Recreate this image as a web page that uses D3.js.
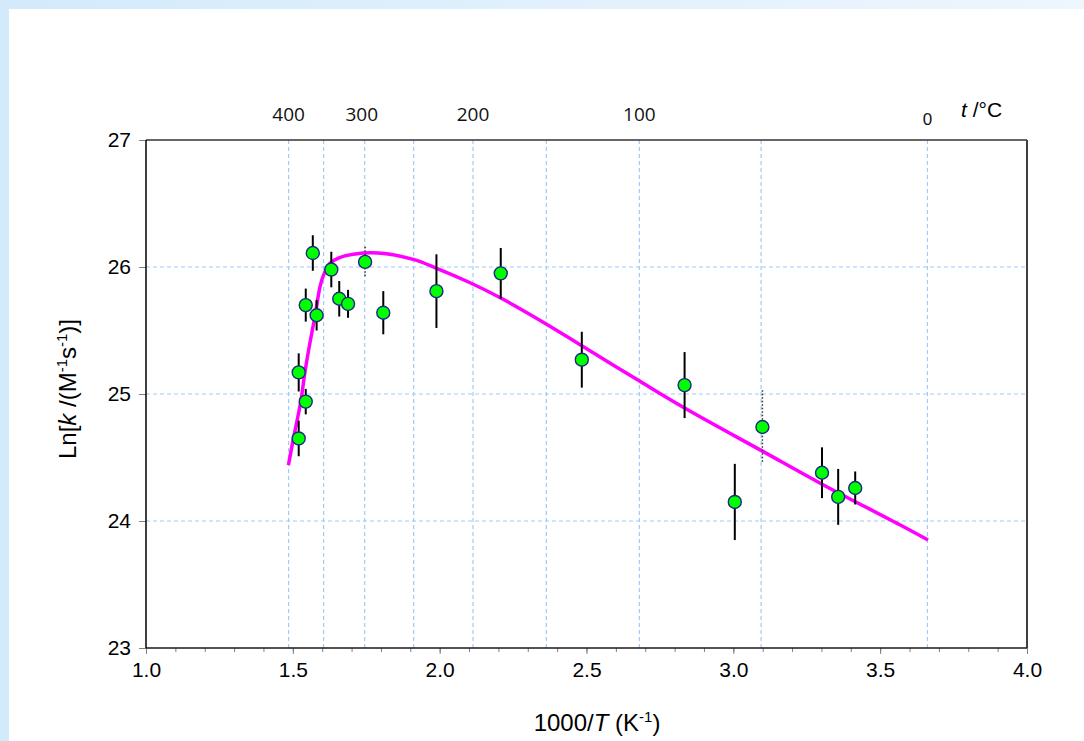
<!DOCTYPE html>
<html>
<head>
<meta charset="utf-8">
<script src="https://cdn.jsdelivr.net/npm/d3@7"></script>
<style>
  html, body { margin: 0; padding: 0; background: #ffffff; }
  svg { display: block; }
</style>
</head>
<body>
<div id="chart"></div>
<script>
// Measured rate constants: 1000/T (K^-1), ln k, and half-width of the error bar
const invT   = [1.520, 1.520, 1.544, 1.544, 1.568, 1.581, 1.631, 1.658, 1.688, 1.746,
                1.808, 1.989, 2.208, 2.484, 2.834, 3.005, 3.099, 3.302, 3.357, 3.415];
const lnK    = [24.65, 25.17, 24.94, 25.70, 26.11, 25.62, 25.98, 25.75, 25.71, 26.04,
                25.64, 25.81, 25.95, 25.27, 25.07, 24.15, 24.74, 24.38, 24.19, 24.26];
const lnKErr = [0.14, 0.15, 0.10, 0.13, 0.14, 0.12, 0.14, 0.14, 0.11, 0.12,
                0.17, 0.29, 0.20, 0.22, 0.26, 0.30, 0.29, 0.20, 0.22, 0.13];
// error bars drawn dotted (less certain determinations)
const dottedErr = [false, false, false, false, false, false, false, false, false, true,
                   false, false, false, false, false, false, true, false, false, false];

// Model curve through the data
const fitInvT = [1.485, 1.502, 1.527, 1.541, 1.558, 1.576, 1.593, 1.607, 1.627, 1.655,
                 1.706, 1.790, 1.910, 1.990, 2.100, 2.205, 2.364, 2.484, 2.682, 2.834,
                 3.099, 3.302, 3.567, 3.663];
const fitLnK  = [24.44, 24.65, 24.94, 25.17, 25.40, 25.62, 25.85, 25.95, 26.03, 26.07,
                 26.10, 26.11, 26.06, 25.99, 25.88, 25.76, 25.55, 25.38, 25.10, 24.89,
                 24.55, 24.29, 23.97, 23.85];

// Axis ticks
const xMajorTicks = [1.0, 1.5, 2.0, 2.5, 3.0, 3.5, 4.0];
const yTicks = [23, 24, 25, 26, 27];
// Celsius gridlines on the top scale, and which of them carry a label
const celsiusGrid = [400, 350, 300, 250, 200, 150, 100, 50, 0];
const celsiusLabels = [400, 300, 200, 100, 0];

const W = 1084, H = 741;
const plotL = 146, plotR = 1027, plotT = 140, plotB = 648;
const sans = "Liberation Sans, Arial, sans-serif";

const svg = d3.select("#chart").append("svg")
  .attr("width", W).attr("height", H);

// Window frame: light-blue strip along the top and left edge
const defs = svg.append("defs");
const grad = defs.append("linearGradient").attr("id", "topBand")
  .attr("x1", "0%").attr("x2", "100%").attr("y1", "0%").attr("y2", "0%");
grad.append("stop").attr("offset", "0%").attr("stop-color", "#d3eafb");
grad.append("stop").attr("offset", "100%").attr("stop-color", "#eef6fe");
svg.append("rect").attr("x", 0).attr("y", 0).attr("width", W).attr("height", H).attr("fill", "#ffffff");
svg.append("rect").attr("x", 0).attr("y", 0).attr("width", W).attr("height", 9).attr("fill", "url(#topBand)");
svg.append("rect").attr("x", 0).attr("y", 0).attr("width", 9).attr("height", H).attr("fill", "#d3eafb");

const x = d3.scaleLinear().domain([1, 4]).range([plotL, plotR]);
const y = d3.scaleLinear().domain([23, 27]).range([plotB, plotT]);
const cToInv = c => 1000 / (c + 273.15);

const gridColor = "#9fcbf5";
const grid = svg.append("g");
// horizontal gridlines
grid.selectAll("line.h").data(yTicks.filter(v => v > 23 && v < 27)).join("line")
  .attr("class", "h")
  .attr("x1", plotL).attr("x2", plotR)
  .attr("y1", d => y(d)).attr("y2", d => y(d))
  .attr("stroke", gridColor).attr("stroke-width", 1.2).attr("stroke-dasharray", "4,3");
// vertical gridlines at round Celsius temperatures
grid.selectAll("line.v").data(celsiusGrid).join("line")
  .attr("class", "v")
  .attr("x1", d => x(cToInv(d))).attr("x2", d => x(cToInv(d)))
  .attr("y1", plotT).attr("y2", plotB)
  .attr("stroke", gridColor).attr("stroke-width", 1.2).attr("stroke-dasharray", "4,3");

// Bottom axis with minor ticks every 0.1
const xAxisMinor = d3.axisBottom(x).tickValues(d3.range(10, 41).map(v => v / 10))
  .tickSize(4).tickFormat("");
svg.append("g").attr("transform", `translate(0,${plotB})`).call(xAxisMinor)
  .call(g => g.select(".domain").remove())
  .call(g => g.selectAll("line").attr("stroke", "#808080").attr("stroke-width", 1));
const xAxis = d3.axisBottom(x).tickValues(xMajorTicks).tickSize(6)
  .tickPadding(8).tickFormat(d3.format(".1f"));
svg.append("g").attr("transform", `translate(0,${plotB})`).call(xAxis)
  .call(g => g.select(".domain").remove())
  .call(g => g.selectAll("line").attr("stroke", "#808080").attr("stroke-width", 1))
  .call(g => g.selectAll("text").attr("font-family", sans)
    .attr("font-size", 21).attr("fill", "#000"));

const yAxis = d3.axisLeft(y).tickValues(yTicks).tickSize(7).tickPadding(8)
  .tickFormat(d3.format("d"));
svg.append("g").attr("transform", `translate(${plotL},0)`).call(yAxis)
  .call(g => g.select(".domain").remove())
  .call(g => g.selectAll("line").attr("stroke", "#808080").attr("stroke-width", 1))
  .call(g => g.selectAll("text").attr("font-family", sans)
    .attr("font-size", 21).attr("fill", "#000"));

// Plot frame
svg.append("line").attr("x1", plotL).attr("x2", plotR).attr("y1", plotT).attr("y2", plotT)
  .attr("stroke", "#333").attr("stroke-width", 1.5);
svg.append("line").attr("x1", plotR).attr("x2", plotR).attr("y1", plotT).attr("y2", plotB)
  .attr("stroke", "#404040").attr("stroke-width", 2);
svg.append("line").attr("x1", plotL).attr("x2", plotR).attr("y1", plotB).attr("y2", plotB)
  .attr("stroke", "#1a1a1a").attr("stroke-width", 1.5);
svg.append("line").attr("x1", plotL).attr("x2", plotL).attr("y1", plotT).attr("y2", plotB)
  .attr("stroke", "#000").attr("stroke-width", 1.5);

// Top Celsius labels
svg.append("g").selectAll("text").data(celsiusLabels).join("text")
  .attr("x", d => x(cToInv(d)) - (d === 300 ? 3 : 0))
  .attr("y", d => d === 0 ? 125 : 121)
  .attr("text-anchor", "middle")
  .attr("font-family", d => d === 0 ? sans : "Open Sans, sans-serif")
  .attr("font-size", d => d === 0 ? 17 : 19)
  .attr("fill", "#111")
  .text(d => d);

const tLab = svg.append("text").attr("x", 961).attr("y", 117)
  .attr("font-family", sans).attr("font-size", 21).attr("fill", "#000");
tLab.append("tspan").attr("font-style", "italic").text("t");
tLab.append("tspan").text(" /°C");

// Axis titles
const xt = svg.append("text").attr("x", 597).attr("y", 731).attr("text-anchor", "middle")
  .attr("font-family", sans).attr("font-size", 24).attr("fill", "#000");
xt.append("tspan").text("1000/");
xt.append("tspan").attr("font-style", "italic").text("T");
xt.append("tspan").text(" (K");
xt.append("tspan").attr("font-size", 15).attr("dy", -9).text("-1");
xt.append("tspan").attr("dy", 9).text(")");

const yt = svg.append("text")
  .attr("transform", "translate(76,389) rotate(-90)").attr("text-anchor", "middle")
  .attr("font-family", sans).attr("font-size", 24).attr("fill", "#000");
yt.append("tspan").text("Ln[");
yt.append("tspan").attr("font-style", "italic").text("k");
yt.append("tspan").text(" /(M");
yt.append("tspan").attr("font-size", 15).attr("dy", -9).text("-1");
yt.append("tspan").attr("dy", 9).text("s");
yt.append("tspan").attr("font-size", 15).attr("dy", -9).text("-1");
yt.append("tspan").attr("dy", 9).text(")]");

// Fitted curve
const curvePts = fitInvT.map((v, i) => [v, fitLnK[i]]);
svg.append("path").datum(curvePts)
  .attr("fill", "none").attr("stroke", "#ff00ff").attr("stroke-width", 3.5)
  .attr("stroke-linejoin", "round")
  .attr("d", d3.line().x(d => x(d[0])).y(d => y(d[1])).curve(d3.curveCatmullRom.alpha(0.5)));

// Data with error bars
const pts = invT.map((v, i) => ({ x: v, y: lnK[i], e: lnKErr[i], dotted: dottedErr[i] }));
svg.append("g").selectAll("line").data(pts).join("line")
  .attr("x1", d => x(d.x)).attr("x2", d => x(d.x))
  .attr("y1", d => y(d.y + d.e)).attr("y2", d => y(d.y - d.e))
  .attr("stroke", d => d.dotted ? "#333" : "#000")
  .attr("stroke-width", d => d.dotted ? 1.5 : 2)
  .attr("stroke-dasharray", d => d.dotted ? "1.5,2" : null);

svg.append("g").selectAll("circle").data(pts).join("circle")
  .attr("cx", d => x(d.x)).attr("cy", d => y(d.y)).attr("r", 6.5)
  .attr("fill", "#00ff00").attr("stroke", "#1c2a80").attr("stroke-width", 1.4);
</script>
</body>
</html>
